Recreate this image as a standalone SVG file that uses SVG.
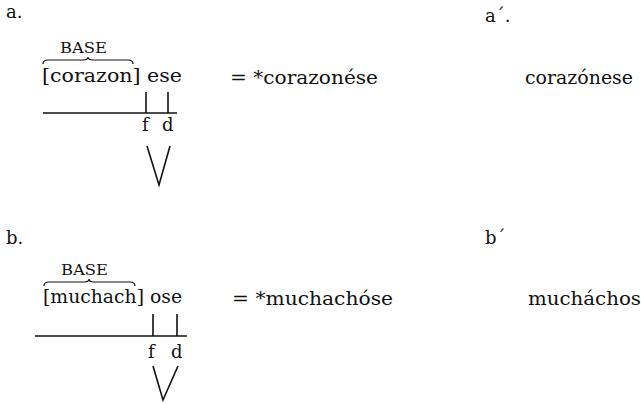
<svg xmlns="http://www.w3.org/2000/svg" width="641" height="404" viewBox="0 0 641 404">
  <style>
    text { font-family: "DejaVu Serif", "Liberation Serif", serif; fill: #111; }
    .main { font-size: 19px; }
    .lab { font-size: 18px; }
    .base { font-size: 14px; }
    .small { font-size: 18px; }
    .ln { stroke: #111; stroke-width: 1.6; fill: none; }
    .brace { stroke: #111; stroke-width: 1.2; fill: none; }
  </style>
  <rect width="641" height="404" fill="#fff"/>

  <!-- example a -->
  <g id="a">
    <text class="lab" x="6" y="18">a.</text>
    <text class="base" x="60" y="53" textLength="47" lengthAdjust="spacingAndGlyphs">BASE</text>
    <path class="brace" d="M43,64 Q43,60 48,60 L83,60 Q88,60 88,57 Q88,60 93,60 L128,60 Q133,60 133,64"/>
    <text class="main" x="42" y="82" textLength="140" lengthAdjust="spacingAndGlyphs">[corazon] ese</text>
    <text class="small" x="142" y="131">f</text>
    <text class="small" x="162" y="131">d</text>
  </g>
  <g id="a-out">
    <text class="main" x="230" y="84" textLength="148" lengthAdjust="spacingAndGlyphs">= *corazonése</text>
  </g>
  <g id="a-prime">
    <text class="lab" x="485" y="22">a´.</text>
    <text class="main" x="525" y="84" textLength="108" lengthAdjust="spacingAndGlyphs">corazónese</text>
  </g>

  <!-- example b -->
  <g id="b">
    <text class="lab" x="6" y="244">b.</text>
    <text class="base" x="61" y="275" textLength="47" lengthAdjust="spacingAndGlyphs">BASE</text>
    <path class="brace" d="M44,286 Q44,282 49,282 L84,282 Q89,282 89,279 Q89,282 94,282 L130,282 Q135,282 135,286"/>
    <text class="main" x="43" y="303" textLength="139" lengthAdjust="spacingAndGlyphs">[muchach] ose</text>
    <text class="small" x="148" y="358">f</text>
    <text class="small" x="171" y="358">d</text>
  </g>
  <g id="b-out">
    <text class="main" x="232" y="305" textLength="161" lengthAdjust="spacingAndGlyphs">= *muchachóse</text>
  </g>
  <g id="b-prime">
    <text class="lab" x="485" y="244">b´</text>
    <text class="main" x="528" y="305" textLength="113" lengthAdjust="spacingAndGlyphs">mucháchos</text>
  </g>

  <!-- connectors: baselines, stress ticks and merge wedges -->
  <g id="connectors" class="ln">
    <path d="M43,113 H177"/>
    <path d="M146,92 V113 M168,92 V113"/>
    <path d="M147,146 L159,185 L170,146"/>
    <path d="M35,336 H187"/>
    <path d="M153,314 V336 M177,314 V336"/>
    <path d="M153,366 L163,400 L178,366"/>
  </g>
</svg>
